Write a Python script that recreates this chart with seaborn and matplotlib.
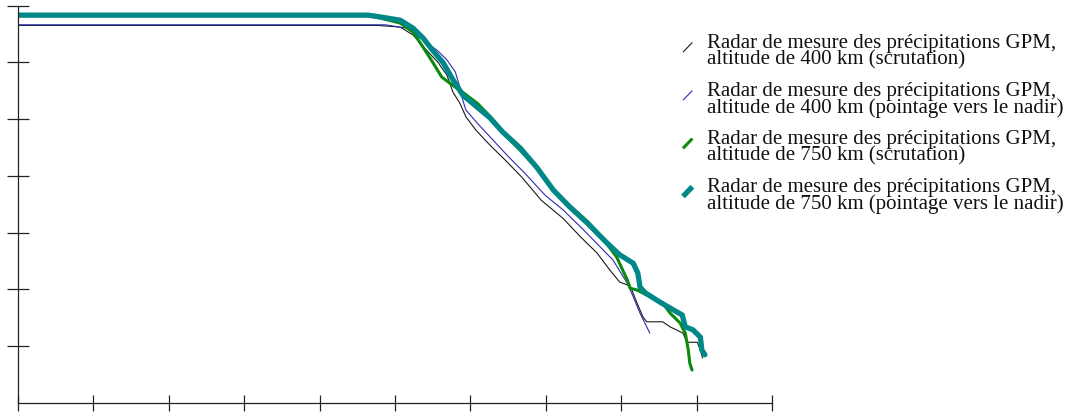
import numpy as np
import pandas as pd
import matplotlib
matplotlib.use("Agg")
import matplotlib.pyplot as plt
import seaborn as sns
from matplotlib.lines import Line2D
from matplotlib.legend_handler import HandlerBase

# ---- data (axis units: x ticks 0..10, y ticks 0..7) ----
x_400_scan = [0.00, 4.76, 5.07, 5.24, 5.42, 5.57, 5.69, 5.77, 5.86, 5.94, 6.07, 6.26, 6.46, 6.68, 6.94,
              7.23, 7.45, 7.68, 7.85, 7.98, 8.12, 8.21, 8.29, 8.34, 8.55, 8.65, 8.82, 8.87, 9.01, 9.05,
              9.08]
y_400_scan = [6.65, 6.65, 6.62, 6.48, 6.21, 6.00, 5.77, 5.47, 5.28, 5.04, 4.81, 4.54, 4.28, 3.98, 3.57,
              3.25, 2.94, 2.64, 2.34, 2.13, 2.06, 1.76, 1.51, 1.43, 1.43, 1.34, 1.23, 1.07, 1.07, 0.93,
              0.79]

x_400_nadir = [0.00, 4.87, 5.16, 5.33, 5.56, 5.69, 5.80, 5.86, 5.90, 5.94, 6.09, 6.30, 6.51, 6.72, 6.99,
               7.23, 7.50, 7.72, 7.89, 8.08, 8.16, 8.25, 8.38]
y_400_nadir = [6.66, 6.66, 6.60, 6.43, 6.21, 6.04, 5.83, 5.56, 5.33, 5.16, 4.93, 4.63, 4.33, 4.05, 3.66,
               3.40, 3.05, 2.75, 2.52, 2.11, 1.87, 1.58, 1.23]

x_750_scan = [0.00, 4.64, 4.80, 5.07, 5.24, 5.37, 5.50, 5.62, 5.76, 5.90, 6.09, 6.26, 6.49, 6.66, 6.88,
              7.10, 7.32, 7.55, 7.68, 7.81, 7.94, 8.02, 8.08, 8.12, 8.21, 8.34, 8.55, 8.65, 8.78, 8.85,
              8.89, 8.91, 8.94]
y_750_scan = [6.83, 6.83, 6.78, 6.69, 6.53, 6.27, 6.00, 5.74, 5.60, 5.47, 5.28, 5.05, 4.68, 4.45, 4.14,
              3.75, 3.47, 3.20, 3.01, 2.80, 2.57, 2.34, 2.17, 2.02, 1.99, 1.90, 1.76, 1.58, 1.41, 1.23,
              0.93, 0.70, 0.58]

x_750_nadir = [0.00, 4.64, 4.80, 5.07, 5.24, 5.37, 5.50, 5.64, 5.77, 5.90, 6.09, 6.26, 6.43, 6.66, 6.88,
               7.10, 7.32, 7.55, 7.81, 7.98, 8.16, 8.22, 8.25, 8.32, 8.51, 8.69, 8.81, 8.85, 8.95, 9.05,
               9.07, 9.11]
y_750_nadir = [6.83, 6.83, 6.80, 6.74, 6.60, 6.43, 6.21, 5.99, 5.69, 5.42, 5.21, 5.02, 4.77, 4.49, 4.15,
               3.75, 3.45, 3.17, 2.82, 2.61, 2.46, 2.29, 2.04, 1.94, 1.78, 1.64, 1.55, 1.34, 1.29, 1.16,
               0.93, 0.85]

labels = [
    "Radar de mesure des précipitations GPM,\naltitude de 400 km (scrutation)",
    "Radar de mesure des précipitations GPM,\naltitude de 400 km (pointage vers le nadir)",
    "Radar de mesure des précipitations GPM,\naltitude de 750 km (scrutation)",
    "Radar de mesure des précipitations GPM,\naltitude de 750 km (pointage vers le nadir)",
]
x_ticks = list(range(0, 11))
y_ticks = list(range(1, 8))

series = [
    (x_400_scan, y_400_scan, "#1a1a1a", 0.8),
    (x_400_nadir, y_400_nadir, "#2b2bb0", 0.8),
    (x_750_scan, y_750_scan, "#0a8a0a", 2.2),
    (x_750_nadir, y_750_nadir, "#008888", 3.8),
]

sns.set_theme(style="white")
plt.rcParams["font.family"] = ["Liberation Serif", "DejaVu Serif"]

fig = plt.figure(figsize=(10.78, 4.12), dpi=100)
ax = fig.add_axes([18 / 1078, 9 / 412, (772 - 18) / 1078, (403 - 5.5) / 412])

handles = []
for (xs, ys, col, lw), lab in zip(series, labels):
    df = pd.DataFrame({"x": xs, "y": ys})
    sns.lineplot(data=df, x="x", y="y", estimator=None, sort=False, color=col,
                 linewidth=lw, ax=ax)
    handles.append(Line2D([], [], color=col, linewidth=lw))

ax.set_xlim(0, 10)
ax.set_ylim(0, 7)
ax.set_xticks(x_ticks)
ax.set_yticks(y_ticks)
ax.set_xticklabels([])
ax.set_yticklabels([])
ax.set_xlabel("")
ax.set_ylabel("")
for s in ["top", "right"]:
    ax.spines[s].set_visible(False)
for s in ["left", "bottom"]:
    ax.spines[s].set_color("#222222")
    ax.spines[s].set_linewidth(0.9)
ax.tick_params(axis="y", direction="inout", length=16.5, width=0.9, color="#222222", left=True)
ax.tick_params(axis="x", direction="inout", length=12, width=0.9, color="#222222", bottom=True)
ax.grid(False)


class DiagHandler(HandlerBase):
    def create_artists(self, legend, orig_handle, xdescent, ydescent, width, height,
                       fontsize, trans):
        y0 = -ydescent + height * 0.45
        ln = Line2D([-xdescent, -xdescent + width], [y0, y0 + 7],
                    color=orig_handle.get_color(), linewidth=orig_handle.get_linewidth(),
                    solid_capstyle="butt", transform=trans)
        return [ln]


leg = fig.legend(handles, labels, loc="upper left", bbox_to_anchor=(683 / 1078, (412 - 34) / 412),
                 frameon=False, fontsize=15, handlelength=0.45, handletextpad=0.7,
                 borderpad=0, borderaxespad=0, labelspacing=0.6,
                 handler_map={Line2D: DiagHandler()})
for t in leg.get_texts():
    t.set_linespacing(0.8)
    t.set_color("#111111")

fig.savefig("out.png", dpi=100)
